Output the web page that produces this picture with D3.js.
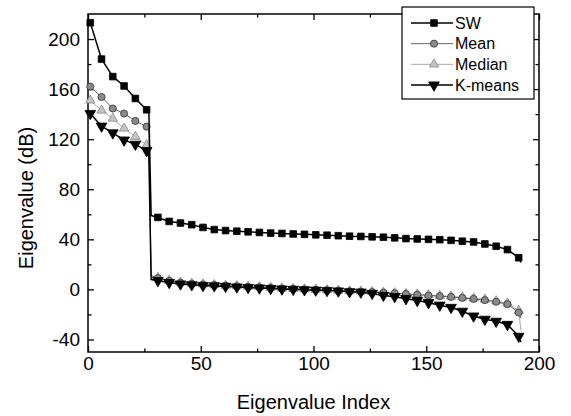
<!DOCTYPE html>
<html>
<head>
<meta charset="utf-8">
<script src="https://cdnjs.cloudflare.com/ajax/libs/d3/7.8.5/d3.min.js"></script>
<style>
  html, body { margin: 0; padding: 0; background: #fff; }
  svg { display: block; }
  text { font-family: "Liberation Sans", Arial, Helvetica, sans-serif; fill: #000; }
</style>
</head>
<body>
<svg id="chart" width="571" height="416"></svg>
<script>
// ---- Data ----
const eigIndex = [1, 6, 11, 16, 21, 26, 27, 28,
  31, 36, 41, 46, 51, 56, 61, 66, 71, 76, 81, 86, 91, 96, 101, 106, 111, 116,
  121, 126, 131, 136, 141, 146, 151, 156, 161, 166, 171, 176, 181, 186, 191, 192];

const swValues = [213, 184, 170, 162.5, 152.5, 143.5, 141, 59,
  57.5, 54.3, 53, 51.7, 49.5, 47.8, 47, 46.5, 46, 45.5, 45, 44.7, 44.3, 44, 43.6, 43.3, 42.9, 42.5,
  42.3, 42, 41.7, 41.2, 40.6, 40.3, 40, 39.7, 39.2, 38.5, 37.9, 36.3, 34.5, 31.8, 25.3, 21.5];

const meanValues = [162, 153.7, 144.5, 140.5, 134.6, 130, 128, 11,
  9, 6.8, 5.3, 4.5, 3.9, 3.5, 3, 2.5, 2.1, 1.7, 1.2, 0.7, 0.4, 0, -0.3, -0.7, -1.1, -1.5,
  -1.8, -2.2, -2.6, -3.1, -3.7, -4.3, -4.9, -5.4, -6, -6.8, -7.6, -8.6, -9.9, -11.8, -18.5, -23];

const medianValues = [151, 143, 136.5, 128.6, 122, 115.3, 113, 10.5,
  9.3, 7, 5.6, 4.7, 4.1, 3.6, 3.1, 2.7, 2.3, 1.9, 1.4, 0.9, 0.6, 0.2, -0.1, -0.5, -0.9, -1.3,
  -1.6, -2, -2.4, -2.9, -3.4, -3.9, -4.5, -5, -5.6, -6.3, -7.1, -8, -9.3, -11, -17, -33];

const kmeansValues = [140.5, 130.4, 125, 119.3, 115.9, 110.8, 106, 8,
  7, 5.5, 4.3, 3.7, 3.1, 2.8, 2.4, 1.9, 1.5, 1.1, 0.7, 0.3, 0, -0.3, -0.6, -0.9, -1.3, -1.9,
  -2.2, -3.2, -4.8, -5.8, -7.4, -8.8, -10.6, -12.6, -14.4, -17.5, -21.3, -23.9, -25.5, -28, -37.5, -42];

const seriesNames = ["SW", "Mean", "Median", "K-means"];
const xTicksMajor = [0, 50, 100, 150, 200];
const xTicksMinor = [25, 75, 125, 175];
const yTicksMajor = [-40, 0, 40, 80, 120, 160, 200];
const yTicksMinor = [-20, 20, 60, 100, 140, 180];
const xTitle = "Eigenvalue Index";
const yTitle = "Eigenvalue (dB)";

// ---- Layout ----
const svg = d3.select("#chart");
const L = 88, R = 539, T = 14, B = 352;
const x = d3.scaleLinear().domain([0, 200]).range([L, R]);
const y = d3.scaleLinear().domain([-50, 220]).range([B, T]);

const styles = {
  "SW":      { line: "#000", lw: 1.5, sym: d3.symbolSquare, size: 44, fill: "#000", stroke: "#000", rot: 0 },
  "Mean":    { line: "#666", lw: 1.0, sym: d3.symbolCircle, size: 40, fill: "#8a8a8a", stroke: "#333", rot: 0 },
  "Median":  { line: "#a8a8a8", lw: 1.0, sym: d3.symbolTriangle, size: 38, fill: "#c4c4c4", stroke: "#888", rot: 0 },
  "K-means": { line: "#000", lw: 1.5, sym: d3.symbolTriangle, size: 50, fill: "#000", stroke: "#000", rot: 180 }
};

const seriesData = {
  "SW": swValues, "Mean": meanValues, "Median": medianValues, "K-means": kmeansValues
};

// ---- Axes (ticks inward, mirrored on all sides) ----
const axisG = svg.append("g");
const fmt = d => String(d);
function ticks(axisFn, scale, vals, size, pos, showLabels) {
  const a = axisFn(scale).tickValues(vals).tickSizeInner(-size).tickSizeOuter(0).tickPadding(showLabels ? 8 : 0);
  a.tickFormat(showLabels ? fmt : "");
  const g = axisG.append("g").attr("transform", pos).call(a);
  g.select(".domain").remove();
  g.selectAll(".tick line").attr("stroke", "#000").attr("stroke-width", 1.3);
  g.selectAll("text").style("font-size", "19px").attr("fill", "#000");
  return g;
}
// bottom
const gb = ticks(d3.axisBottom, x, xTicksMajor, 6, `translate(0,${B})`, true);
gb.selectAll("text").attr("dy", null).attr("y", 18);
ticks(d3.axisBottom, x, xTicksMinor, 3.5, `translate(0,${B})`, false);
// top
ticks(d3.axisTop, x, xTicksMajor, 6, `translate(0,${T})`, false);
ticks(d3.axisTop, x, xTicksMinor, 3.5, `translate(0,${T})`, false);
// left
ticks(d3.axisLeft, y, yTicksMajor, 6, `translate(${L},0)`, true);
ticks(d3.axisLeft, y, yTicksMinor, 3.5, `translate(${L},0)`, false);
// right
ticks(d3.axisRight, y, yTicksMajor, 6, `translate(${R},0)`, false);
ticks(d3.axisRight, y, yTicksMinor, 3.5, `translate(${R},0)`, false);

// frame
svg.append("rect").attr("x", L).attr("y", T).attr("width", R - L).attr("height", B - T)
  .attr("fill", "none").attr("stroke", "#000").attr("stroke-width", 1.5);

// ---- Series ----
const plot = svg.append("g");
const lineGen = d3.line().x(d => x(d[0])).y(d => y(d[1]));
["Median", "Mean", "SW", "K-means"].forEach(name => {
  const st = styles[name];
  const pts = eigIndex.map((ix, i) => [ix, seriesData[name][i]]);
  plot.append("path").datum(pts).attr("d", lineGen)
    .attr("fill", "none").attr("stroke", st.line).attr("stroke-width", st.lw)
    .attr("stroke-linejoin", "round");
  const marks = pts.filter(p => (p[0] - 1) % 5 === 0);
  plot.selectAll(null).data(marks).enter().append("path")
    .attr("d", d3.symbol().type(st.sym).size(st.size))
    .attr("transform", d => `translate(${x(d[0])},${y(d[1])}) rotate(${st.rot})`)
    .attr("fill", st.fill).attr("stroke", st.stroke).attr("stroke-width", 0.8);
});

// ---- Legend ----
const lg = svg.append("g");
lg.append("rect").attr("x", 402).attr("y", 7).attr("width", 132).attr("height", 92)
  .attr("fill", "#fff").attr("stroke", "#000").attr("stroke-width", 1.2);
const legY = d3.scalePoint().domain(seriesNames).range([23, 85]);
seriesNames.forEach(name => {
  const st = styles[name];
  const yy = legY(name);
  lg.append("line").attr("x1", 411).attr("x2", 453).attr("y1", yy).attr("y2", yy)
    .attr("stroke", st.line).attr("stroke-width", st.lw);
  lg.append("path").attr("d", d3.symbol().type(st.sym).size(st.size))
    .attr("transform", `translate(434,${yy}) rotate(${st.rot})`)
    .attr("fill", st.fill).attr("stroke", st.stroke).attr("stroke-width", 0.8);
  lg.append("text").attr("x", 455).attr("y", yy + 5.5).style("font-size", "16px").text(name);
});

// ---- Titles ----
svg.append("text").attr("x", (L + R) / 2).attr("y", 409).attr("text-anchor", "middle")
  .style("font-size", "20px").text(xTitle);
svg.append("text").attr("transform", "translate(33,198) rotate(-90)").attr("text-anchor", "middle")
  .style("font-size", "20px").text(yTitle);
</script>
</body>
</html>
